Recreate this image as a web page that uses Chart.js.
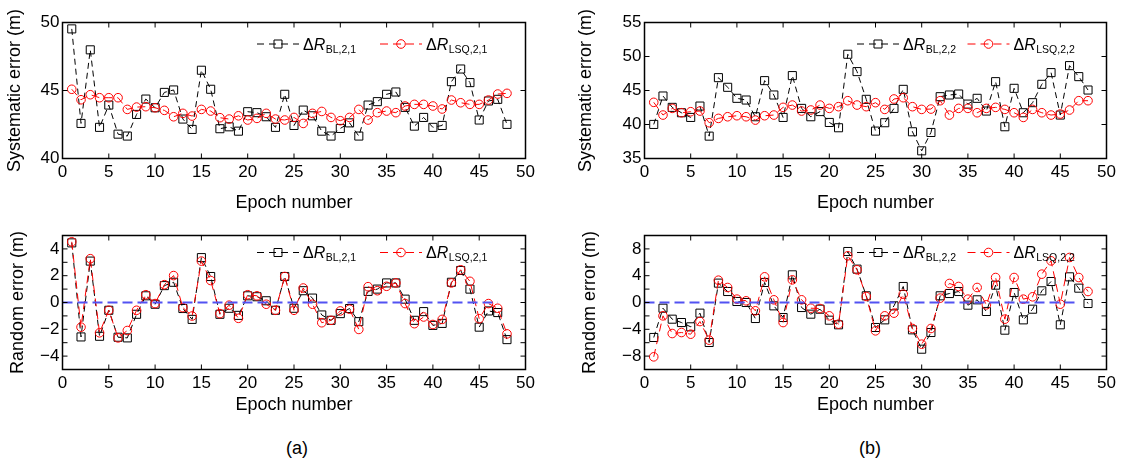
<!DOCTYPE html>
<html lang="en">
<head>
<meta charset="utf-8">
<title>Systematic and random error vs epoch</title>
<script src="https://cdn.jsdelivr.net/npm/chart.js@4.4.1/dist/chart.umd.min.js"></script>
<style>
  html, body { margin: 0; padding: 0; background: #fff; }
  body { position: relative; width: 1123px; height: 468px; overflow: hidden;
         font-family: "Liberation Sans", Arial, sans-serif; }
  canvas { position: absolute; }
  .subfig { position: absolute; font-size: 18px; color: #000; transform: translate(-50%, -50%); }
</style>
</head>
<body>
<canvas id="sisA" width="561" height="215" style="left:0;top:0"></canvas>
<canvas id="sisB" width="562" height="215" style="left:561px;top:0"></canvas>
<canvas id="alaA" width="561" height="205" style="left:0;top:220px"></canvas>
<canvas id="alaB" width="562" height="205" style="left:561px;top:220px"></canvas>
<div class="subfig" style="left:297px;top:448px">(a)</div>
<div class="subfig" style="left:870px;top:448px">(b)</div>

<script>
// ==========================================
// Datos
// ==========================================
const epocas = [1, 2, 3, 4, 5, 6, 7, 8, 9, 10, 11, 12, 13, 14, 15, 16, 17, 18, 19, 20, 21, 22, 23, 24,
                25, 26, 27, 28, 29, 30, 31, 32, 33, 34, 35, 36, 37, 38, 39, 40, 41, 42, 43, 44, 45, 46, 47, 48];

// (a) error sistemático, enlace 2,1
const sisBL_a = [49.53, 42.58, 47.99, 42.29, 43.93, 41.79, 41.65, 43.24, 44.37, 43.73, 44.86, 45.04,
                 42.90, 42.14, 46.49, 45.09, 42.19, 42.33, 42.01, 43.44, 43.37, 43.07, 42.29, 44.72,
                 42.43, 43.56, 43.14, 42.01, 41.65, 42.21, 42.62, 41.65, 43.93, 44.18, 44.72, 44.89,
                 43.76, 42.38, 43.02, 42.29, 42.43, 45.65, 46.58, 45.58, 42.83, 44.23, 44.35, 42.51];
const sisLSQ_a = [45.09, 44.32, 44.69, 44.47, 44.47, 44.47, 43.61, 43.78, 43.81, 43.73, 43.54, 43.07,
                  43.32, 43.12, 43.61, 43.49, 43.00, 42.90, 43.14, 42.83, 42.95, 43.32, 42.90, 42.83,
                  43.02, 42.58, 43.32, 43.46, 43.02, 42.78, 43.02, 43.61, 42.83, 43.37, 43.49, 43.37,
                  43.86, 43.98, 43.98, 43.86, 43.64, 44.30, 44.10, 43.98, 43.98, 44.30, 44.74, 44.79];

// (b) error sistemático, enlace 2,2
const sisBL_b = [40.01, 44.19, 42.52, 41.73, 41.04, 42.71, 38.29, 46.89, 45.47, 43.85, 43.60, 41.14,
                 46.45, 44.34, 41.04, 47.19, 42.37, 41.14, 41.90, 40.30, 39.52, 50.33, 47.78, 43.70,
                 39.03, 40.26, 42.37, 45.17, 38.93, 36.13, 38.83, 44.09, 44.34, 44.48, 43.00, 43.85,
                 41.98, 46.30, 39.67, 45.32, 41.73, 43.21, 45.91, 47.63, 41.39, 48.66, 47.04, 45.07];
const sisLSQ_b = [43.26, 41.39, 42.37, 41.73, 41.88, 41.98, 40.26, 40.90, 41.14, 41.29, 41.14, 40.65,
                  41.29, 41.39, 42.52, 42.86, 41.98, 42.13, 42.86, 42.37, 42.62, 43.50, 42.86, 42.62,
                  43.21, 42.22, 43.75, 43.94, 42.62, 42.22, 42.27, 43.50, 41.39, 42.37, 42.37, 41.73,
                  42.37, 42.52, 42.22, 41.73, 41.04, 42.22, 41.73, 41.39, 41.54, 42.13, 43.50, 43.50];

// (a) error aleatorio
const alaBL_a = [4.45, -2.57, 3.09, -2.52, -0.58, -2.59, -2.64, -0.88, 0.50, -0.13, 1.26, 1.51,
                 -0.45, -1.26, 3.35, 1.94, -0.88, -0.43, -0.96, 0.50, 0.43, 0.13, -0.58, 1.94,
                 -0.43, 0.88, 0.33, -0.93, -1.33, -0.83, -0.45, -1.43, 0.83, 1.00, 1.46, 1.46,
                 0.25, -1.33, -0.68, -1.71, -1.56, 1.51, 2.39, 1.00, -1.84, -0.63, -0.75, -2.77];
const alaLSQ_a = [4.53, -1.84, 3.27, -2.26, -0.58, -2.64, -2.09, -0.58, 0.58, -0.08, 1.33, 2.01,
                  -0.38, -1.01, 3.09, 1.64, -0.83, -0.20, -1.18, 0.58, 0.50, -0.13, -0.58, 1.94,
                  -0.58, 1.08, -0.13, -1.51, -1.33, -0.63, -0.50, -2.01, 1.18, 0.88, 1.21, 1.46,
                  -0.08, -1.58, -1.08, -1.64, -1.26, 1.46, 2.44, 1.58, -1.21, -0.08, -0.43, -2.34];

// (b) error aleatorio
const alaBL_b = [-5.22, -0.85, -2.49, -2.99, -3.63, -1.59, -5.97, 2.89, 1.64, 0.15, 0.00, -2.39,
                 2.99, -0.50, -2.24, 4.13, -0.75, -1.74, -1.00, -2.64, -3.33, 7.61, 4.98, 1.00,
                 -3.73, -2.59, -0.50, 2.39, -4.08, -6.97, -4.48, 1.00, 1.34, 1.64, -0.40, 0.40,
                 -1.34, 2.59, -4.13, 1.49, -2.59, -1.00, 1.74, 3.13, -3.33, 3.83, 2.14, -0.15];
const alaLSQ_b = [-8.11, -1.99, -4.63, -4.48, -4.73, -2.84, -5.62, 3.33, 2.24, 0.50, 0.25, -1.24,
                  3.83, 0.40, -2.99, 3.38, 0.40, -0.85, -0.90, -1.99, -3.23, 6.97, 4.88, 0.90,
                  -4.23, -1.99, -1.59, 1.24, -3.88, -6.22, -3.88, 0.65, 2.84, 2.39, 0.50, 2.24,
                  -0.35, 3.73, -2.49, 3.73, 0.50, 0.85, 4.23, 6.22, -0.25, 6.72, 3.73, 1.64];

// línea de referencia en cero (azul discontinua)
const ceroX = [0, 47];
const ceroY = [0, 0];

// ==========================================
// Estilos compartidos
// ==========================================
const fuente = '"Liberation Sans", Arial, sans-serif';
Chart.defaults.font.family = fuente;
Chart.defaults.color = '#000';

const pts = (xs, ys) => xs.map((x, i) => ({ x: x, y: ys[i] }));

// Marco completo tipo MATLAB con marcas hacia dentro en los cuatro lados
const marcoPlugin = {
    id: 'marco',
    afterDatasetsDraw(chart) {
        const { ctx, chartArea: a, scales: { x, y } } = chart;
        const largo = 5;
        ctx.save();
        ctx.strokeStyle = '#000';
        ctx.lineWidth = 1;
        ctx.beginPath();
        x.ticks.forEach(t => {
            const px = x.getPixelForValue(t.value);
            ctx.moveTo(px, a.bottom); ctx.lineTo(px, a.bottom - largo);
            ctx.moveTo(px, a.top); ctx.lineTo(px, a.top + largo);
        });
        y.ticks.forEach(t => {
            const py = y.getPixelForValue(t.value);
            ctx.moveTo(a.left, py); ctx.lineTo(a.left + largo, py);
            ctx.moveTo(a.right, py); ctx.lineTo(a.right - largo, py);
        });
        ctx.stroke();
        ctx.lineWidth = 1.5;
        ctx.strokeRect(a.left, a.top, a.right - a.left, a.bottom - a.top);
        ctx.restore();
    }
};

// Leyenda propia: ΔR con subíndice (Chart.js no hace subíndices)
const leyendaPlugin = {
    id: 'leyendaSub',
    afterDraw(chart, args, opts) {
        if (!opts.items) return;
        const ctx = chart.ctx;
        const y = opts.y;
        ctx.save();
        opts.items.forEach(it => {
            ctx.strokeStyle = it.color;
            ctx.lineWidth = 1;
            ctx.setLineDash(it.dash);
            ctx.beginPath();
            ctx.moveTo(it.x, y);
            ctx.lineTo(it.x + 42, y);
            ctx.stroke();
            ctx.setLineDash([]);
            const mx = it.x + 21;
            ctx.beginPath();
            if (it.marker === 'rect') ctx.rect(mx - 4, y - 4, 8, 8);
            else ctx.arc(mx, y, 4.3, 0, Math.PI * 2);
            ctx.stroke();

            let tx = it.x + 46;
            const base = y + 5.5;
            ctx.fillStyle = '#000';
            ctx.textAlign = 'left';
            ctx.textBaseline = 'alphabetic';
            ctx.font = '16px ' + fuente;
            ctx.fillText('\u0394', tx, base);
            tx += ctx.measureText('\u0394').width;
            ctx.font = 'italic 16px ' + fuente;
            ctx.fillText('R', tx, base);
            tx += ctx.measureText('R').width;
            ctx.font = '10.5px ' + fuente;
            ctx.fillText(it.sub, tx + 0.5, base + 3);
        });
        ctx.restore();
    }
};

function serieBL(ys) {
    return {
        data: pts(epocas, ys),
        borderColor: '#000', borderWidth: 1, borderDash: [6, 4],
        pointStyle: 'rect', pointRadius: 5.7, pointBorderWidth: 1,
        pointBorderColor: '#000', pointBackgroundColor: 'rgba(0,0,0,0)',
        fill: false, tension: 0, order: 2
    };
}

function serieLSQ(ys) {
    return {
        data: pts(epocas, ys),
        borderColor: '#ff0000', borderWidth: 1, borderDash: [8, 5],
        pointStyle: 'circle', pointRadius: 4.3, pointBorderWidth: 1,
        pointBorderColor: '#ff0000', pointBackgroundColor: 'rgba(0,0,0,0)',
        fill: false, tension: 0, order: 1
    };
}

function serieCero() {
    return {
        data: pts(ceroX, ceroY),
        borderColor: '#5252f2', borderWidth: 2, borderDash: [10, 5],
        pointRadius: 0, fill: false, order: 0
    };
}

// ==========================================
// Construcción de cada panel
// ==========================================
function crearPanel(id, p) {
    const datasets = [serieBL(p.bl), serieLSQ(p.lsq)];
    if (p.cero) datasets.push(serieCero());

    return new Chart(document.getElementById(id), {
        type: 'line',
        data: { datasets: datasets },
        plugins: [marcoPlugin, leyendaPlugin],
        options: {
            responsive: false,
            animation: false,
            events: [],
            layout: { padding: { top: p.arriba, right: p.derecha, left: 0, bottom: 0 } },
            plugins: {
                legend: { display: false },
                tooltip: { enabled: false },
                leyendaSub: {
                    y: p.leyendaY,
                    items: [
                        { x: p.leyendaX[0], color: '#000', dash: [7, 5], marker: 'rect', sub: p.subBL },
                        { x: p.leyendaX[1], color: '#ff0000', dash: [8, 5], marker: 'circle', sub: p.subLSQ }
                    ]
                }
            },
            scales: {
                x: {
                    type: 'linear', min: 0, max: 50,
                    grid: { display: false, drawTicks: false },
                    border: { display: false },
                    ticks: { stepSize: 5, padding: 4, maxRotation: 0, font: { size: 17 }, color: '#000' },
                    title: { display: true, text: 'Epoch number', color: '#000',
                             font: { size: 18 }, padding: { top: 0, bottom: p.tituloXpad } },
                    afterFit: s => { s.height = p.altoX; }
                },
                y: {
                    type: 'linear', min: p.yMin, max: p.yMax,
                    grid: { display: false, drawTicks: false },
                    border: { display: false },
                    ticks: {
                        stepSize: p.yPaso, autoSkip: false, padding: 3,
                        font: { size: 17 }, color: '#000',
                        callback: v => (v % p.etiquetaCada === 0 ? String(v).replace('-', '\u2212') : '')
                    },
                    title: { display: true, text: p.tituloY, color: '#000',
                             font: { size: 18 }, padding: { top: p.tituloYpad, bottom: 0 } },
                    afterFit: s => { s.width = p.anchoY; }
                }
            }
        }
    });
}

crearPanel('sisA', {
    bl: sisBL_a, lsq: sisLSQ_a, cero: false,
    yMin: 40, yMax: 50, yPaso: 5, etiquetaCada: 5,
    tituloY: 'Systematic error (m)', tituloYpad: 4, tituloXpad: 1.2,
    anchoY: 62.5, altoX: 56.5, arriba: 22.5, derecha: 35.5,
    leyendaX: [257, 380], leyendaY: 44, subBL: 'BL,2,1', subLSQ: 'LSQ,2,1'
});

crearPanel('sisB', {
    bl: sisBL_b, lsq: sisLSQ_b, cero: false,
    yMin: 35, yMax: 55, yPaso: 5, etiquetaCada: 5,
    tituloY: 'Systematic error (m)', tituloYpad: 14.7, tituloXpad: 1.2,
    anchoY: 83.5, altoX: 56.5, arriba: 22.5, derecha: 16.5,
    leyendaX: [296, 406.5], leyendaY: 44, subBL: 'BL,2,2', subLSQ: 'LSQ,2,2'
});

crearPanel('alaA', {
    bl: alaBL_a, lsq: alaLSQ_a, cero: true,
    yMin: -5, yMax: 5, yPaso: 1, etiquetaCada: 2,
    tituloY: 'Random error (m)', tituloYpad: 7.2, tituloXpad: 9.2,
    anchoY: 62.5, altoX: 55.5, arriba: 15.5, derecha: 35.5,
    leyendaX: [257, 380], leyendaY: 32.5, subBL: 'BL,2,1', subLSQ: 'LSQ,2,1'
});

crearPanel('alaB', {
    bl: alaBL_b, lsq: alaLSQ_b, cero: true,
    yMin: -10, yMax: 10, yPaso: 2, etiquetaCada: 4,
    tituloY: 'Random error (m)', tituloYpad: 18, tituloXpad: 9.2,
    anchoY: 83.5, altoX: 55.5, arriba: 15.5, derecha: 16.5,
    leyendaX: [296, 406.5], leyendaY: 32.5, subBL: 'BL,2,2', subLSQ: 'LSQ,2,2'
});
</script>
</body>
</html>
